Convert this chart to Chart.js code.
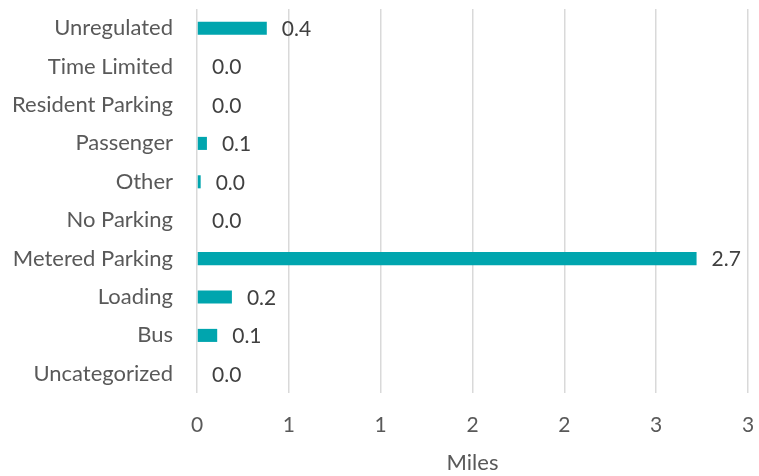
<!DOCTYPE html>
<html>
<head>
<meta charset="utf-8">
<script src="https://cdn.jsdelivr.net/npm/chart.js@4/dist/chart.umd.min.js"></script>
<style>
  html, body { margin: 0; padding: 0; background: #fff; }
  #wrap { width: 759px; height: 476px; }
</style>
</head>
<body>
<div id="wrap"><canvas id="grafico" width="759" height="476"></canvas></div>
<script>
// categorie (dall'alto verso il basso)
var categorie = ['Unregulated', 'Time Limited', 'Resident Parking', 'Passenger', 'Other',
  'No Parking', 'Metered Parking', 'Loading', 'Bus', 'Uncategorized'];
// miglia per categoria
var miglia = [0.38, 0, 0, 0.054, 0.02, 0, 2.72, 0.19, 0.11, 0];
// asse x: da 0 a 3 a passi di 0.5
var asse_min = 0;
var asse_max = 3;
var asse_passo = 0.5;
var titolo_asse = 'Miles';

var font_base = 'Lato, "Open Sans", sans-serif';

// etichette dei valori a fine barra
var etichetteValori = {
  id: 'etichetteValori',
  afterDatasetsDraw: function(chart){
    var ctx = chart.ctx;
    var meta = chart.getDatasetMeta(0);
    ctx.save();
    ctx.font = '21px ' + font_base;
    ctx.fillStyle = '#404040';
    ctx.textAlign = 'left';
    ctx.textBaseline = 'middle';
    for (var i = 0; i < meta.data.length; i++) {
      var barra = meta.data[i];
      var valore = chart.data.datasets[0].data[i];
      ctx.fillText(valore.toFixed(1), barra.x + 15, barra.y + 1);
    }
    ctx.restore();
  }
};

var grafico = new Chart(document.getElementById('grafico'), {
  type: 'bar',
  data: {
    labels: categorie,
    datasets: [{
      data: miglia,
      backgroundColor: '#00A5AE',
      borderWidth: 0,
      barPercentage: 0.34,
      categoryPercentage: 1
    }]
  },
  options: {
    indexAxis: 'y',
    responsive: false,
    animation: false,
    layout: { padding: { left: 0, right: 11, top: 9, bottom: 0 } },
    plugins: {
      legend: { display: false },
      tooltip: { enabled: false }
    },
    scales: {
      x: {
        min: asse_min,
        max: asse_max,
        ticks: {
          stepSize: asse_passo,
          color: '#595959',
          font: { family: font_base, size: 21 },
          padding: 20,
          callback: function(v){ return Math.round(v); }
        },
        grid: { color: '#D9D9D9', lineWidth: 1.5, drawTicks: false },
        border: { display: false },
        title: {
          display: true,
          text: titolo_asse,
          color: '#595959',
          font: { family: font_base, size: 22 },
          padding: { top: 8, bottom: 0 }
        },
        afterFit: function(scale){
          scale.height = 83;
          scale.paddingLeft = 0;
          scale.paddingRight = 0;
        }
      },
      y: {
        ticks: {
          color: '#595959',
          font: { family: font_base, size: 22 },
          padding: 16
        },
        grid: { display: false },
        border: { display: false },
        afterFit: function(scale){
          scale.width = 197;
          scale.paddingTop = 0;
          scale.paddingBottom = 0;
        }
      }
    }
  },
  plugins: [etichetteValori]
});
</script>
</body>
</html>
